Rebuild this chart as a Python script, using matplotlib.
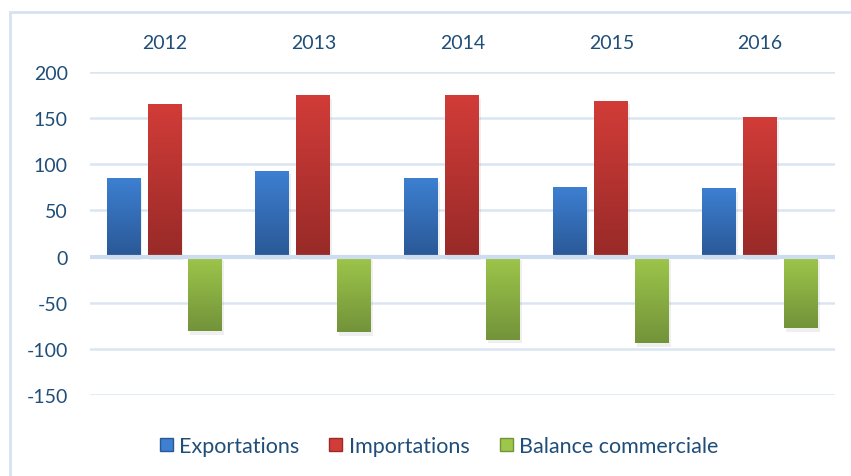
import numpy as np
import matplotlib.pyplot as plt
import matplotlib.patches as mpatches
from matplotlib.colors import LinearSegmentedColormap

years = ['2012', '2013', '2014', '2015', '2016']
exportations = [85, 93, 85, 75, 74]
importations = [165, 175, 175, 169, 151]
balance = [-81, -82, -90, -94, -78]

series = [
    ('Exportations', exportations, '#3d7fd1', '#2a5896'),
    ('Importations', importations, '#d13c38', '#982a28'),
    ('Balance commerciale', balance, '#9dc64a', '#73933a'),
]

plt.rcParams['font.family'] = ['Lato', 'DejaVu Sans']
plt.rcParams['axes.unicode_minus'] = False
text_col = '#1f4e79'
grid_col = '#dbe5f1'

fig = plt.figure(figsize=(8.51, 4.77), dpi=100)
ax = fig.add_axes([0.1058, 0.170, 0.875, 0.677])

# outer frame
fig.patches.append(mpatches.Rectangle((10 / 851, -0.02), 1.0, 1 - 13 / 477 + 0.02,
                                      transform=fig.transFigure, fill=False,
                                      edgecolor='#d5e2f2', linewidth=2))

x = np.arange(len(years))
width = 0.228
offsets = [-0.275, 0.0, 0.275]

handles = []
for (name, vals, top, bottom), off in zip(series, offsets):
    bars = ax.bar(x + off, vals, width, color=top, zorder=3)
    cmap = LinearSegmentedColormap.from_list(name, [bottom, top])
    for b in bars:
        x0, y0 = b.get_x(), b.get_y()
        w, h = b.get_width(), b.get_height()
        lo, hi = min(y0, y0 + h), max(y0, y0 + h)
        grad = np.linspace(1, 0, 64).reshape(-1, 1)
        ax.imshow(grad, cmap=cmap, extent=(x0, x0 + w, lo, hi), aspect='auto',
                  zorder=4, interpolation='bicubic')
        # soft shadow
        ax.add_patch(mpatches.Rectangle((x0 + 0.01, lo - 4), w, hi - lo,
                                        color='#7f7f7f', alpha=0.12, zorder=2,
                                        linewidth=0))
    handles.append(mpatches.Patch(facecolor=top, edgecolor=bottom, label=name))

ax.set_xlim(-0.5, len(years) - 0.5)
ax.set_ylim(-150, 200)
ax.set_yticks(range(-150, 201, 50))
ax.axhline(0, color='#cddcee', linewidth=3, zorder=5)
ax.yaxis.grid(True, color=grid_col, linewidth=1.8, zorder=0)
ax.set_axisbelow(True)

ax.set_xticks(x)
ax.set_xticklabels(years)
ax.xaxis.tick_top()
ax.tick_params(axis='x', length=0, pad=15, labelsize=14, labelcolor=text_col)
ax.tick_params(axis='y', length=0, pad=16, labelsize=14, labelcolor=text_col)
for s in ax.spines.values():
    s.set_visible(False)

fig.legend(handles=handles, loc='center', bbox_to_anchor=(0.516, 0.063), ncol=3,
           frameon=False, fontsize=15.5, handlelength=0.6, handleheight=0.6,
           handletextpad=0.3, columnspacing=1.4, labelcolor=text_col)

fig.savefig('out.png', dpi=100)
